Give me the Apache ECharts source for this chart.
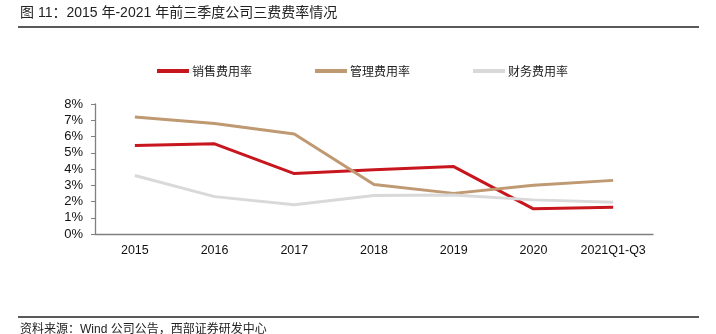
<!DOCTYPE html>
<html><head><meta charset="utf-8">
<script src="https://cdn.jsdelivr.net/npm/echarts@6/dist/echarts.min.js"></script>
<style>html,body{margin:0;padding:0;background:#fff}#c{width:716px;height:334px}</style>
</head><body><div id="c"></div>
<script>
var categories = ['2015','2016','2017','2018','2019','2020','2021Q1-Q3'];
var sales = [5.45, 5.55, 3.72, 3.95, 4.15, 1.55, 1.65];
var admin = [7.2, 6.8, 6.15, 3.05, 2.5, 3.0, 3.3];
var finance = [3.6, 2.3, 1.8, 2.37, 2.4, 2.1, 1.95];
var seriesNames = ['销售费用率','管理费用率','财务费用率'];
var yTicks = ['0%','1%','2%','3%','4%','5%','6%','7%','8%'];
var colors = ['#C8161E','#BF9971','#D9D9D9'];

var chart = echarts.init(document.getElementById('c'), null, {renderer:'canvas'});
var font = '"Liberation Sans", Arial, "Noto Sans CJK SC", sans-serif';
var cjk = '"Noto Sans CJK SC", sans-serif';
function mk(name, data, color){
  return {name:name, type:'line', data:data, symbol:'none', smooth:false,
    lineStyle:{color:color, width:3}, itemStyle:{color:color}, z:3};
}
chart.setOption({
  animation:false,
  graphic:[
    {type:'text', left:20, top:6, style:{text:'图 11：2015 年-2021 年前三季度公司三费费率情况', font:'14px '+font, fill:'#222'}},
    {type:'line', shape:{x1:18,y1:27,x2:699,y2:27}, style:{stroke:'#222', lineWidth:1.3}},
    {type:'line', shape:{x1:18,y1:317,x2:699,y2:317}, style:{stroke:'#222', lineWidth:1.3}},
    {type:'text', left:20, top:324, style:{text:'资料来源：Wind 公司公告，西部证券研发中心', font:'12px '+font, fill:'#222'}}
  ],
  legend:{
    top:60, left:152, itemGap:63, itemWidth:32, itemHeight:4, icon:'rect',
    data:seriesNames,
    textStyle:{fontFamily:cjk, fontSize:12, color:'#222', padding:[0,0,0,-2]}
  },
  grid:{left:95, right:63, top:104, bottom:100, containLabel:false},
  xAxis:{type:'category', data:categories, boundaryGap:true,
    axisLine:{lineStyle:{color:'#808080', width:1.3}},
    axisTick:{inside:true, length:4, lineStyle:{color:'#808080'}},
    axisLabel:{color:'#111', fontSize:12.5, fontFamily:font, margin:10, interval:0}
  },
  yAxis:{type:'value', min:0, max:8, interval:1,
    axisLine:{show:true, lineStyle:{color:'#808080', width:1.3}},
    axisTick:{show:true, length:4, lineStyle:{color:'#808080'}},
    splitLine:{show:false},
    axisLabel:{color:'#111', fontSize:13, fontFamily:font, margin:12,
      formatter:function(v){return yTicks[Math.round(v)];}}
  },
  series:[mk(seriesNames[0], sales, colors[0]), mk(seriesNames[1], admin, colors[1]), mk(seriesNames[2], finance, colors[2])]
});
</script></body></html>
